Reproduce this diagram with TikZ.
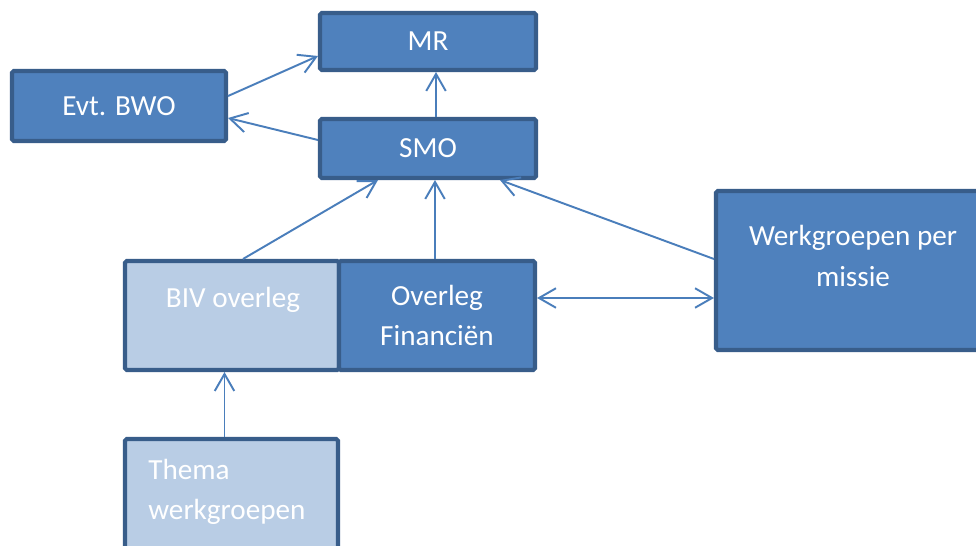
\documentclass[tikz,border=0pt]{standalone}
\usepackage{fontspec}
\setmainfont{Carlito}
\usepackage{tikz}
\usetikzlibrary{calc, arrows.meta}
\definecolor{myblue}{RGB}{79, 129, 189}
\definecolor{mylight}{RGB}{185, 205, 229}
\definecolor{myborder}{RGB}{56, 93, 138}
\definecolor{myarrow}{RGB}{74, 126, 187}
\tikzset{>={Straight Barb[length=3.4mm, width=3.9mm, line width=1.1pt]}}
\tikzset{box/.style = {draw = myborder, line width = 2.3pt, fill = myblue, rounded corners = 1pt, inner sep = 0pt, text = white, font = \fontsize{16.6}{22.8}\selectfont, align = center}}
\tikzset{lightbox/.style = {box, fill = mylight}}
\tikzset{txt/.style = {text = white, inner sep = 0pt, font = \fontsize{16.6}{22.8}\selectfont}}
\tikzset{conn/.style = {->, draw = myarrow, line width = 1.1pt}}

\begin{document}
\begin{tikzpicture}
\clip (0, 0) rectangle (19.52, 10.9);
\fill[white] (0, 0) rectangle (19.52, 10.9);

\node[box, minimum width = 4.32cm, minimum height = 1.14cm] (mr) at (8.56, 10.07) {MR};
\node[box, minimum width = 4.28cm, minimum height = 1.40cm] (bwo) at (2.38, 8.78) {Evt. BWO};
\node[box, minimum width = 4.32cm, minimum height = 1.18cm] (smo) at (8.56, 7.93) {SMO};
\node[lightbox, minimum width = 4.28cm, minimum height = 2.18cm] (biv) at (4.64, 4.59) {};
\node[box, minimum width = 3.92cm, minimum height = 2.18cm] (fin) at (8.74, 4.59) {Overleg\\Financiën};
\node[box, minimum width = 5.48cm, minimum height = 3.18cm] (wgm) at (17.06, 5.49) {};
\node[lightbox, minimum width = 4.26cm, minimum height = 2.48cm] (thema) at (4.63, 0.88) {};

\node[txt] (bivtext) at (4.66, 4.90) {BIV overleg};
\node[txt, align = center] (wgmtext) at (17.06, 5.78) {Werkgroepen per\\missie};
\node[txt, align = left, anchor = west] (thematext) at (2.96, 1.06) {Thema\\werkgroepen};

\draw[conn] ([yshift = 0.20cm]bwo.east) -- ([yshift = -0.29cm]mr.west);
\draw[conn] ([yshift = 0.17cm]smo.west) -- ([yshift = -0.24cm]bwo.east);
\draw[conn] ([xshift = 0.16cm]smo.north) -- ([xshift = 0.16cm]mr.south);
\draw[conn] ([xshift = 0.22cm]biv.north) -- ([xshift = -1.00cm]smo.south);
\draw[conn] ([xshift = -0.04cm]fin.north) -- ([xshift = 0.14cm]smo.south);
\draw[conn] ([yshift = 0.23cm]wgm.west) -- ([xshift = 1.44cm]smo.south);
\draw[conn, <->] ([yshift = 0.35cm]fin.east) -- ([yshift = 0.35cm]fin.east -| wgm.west);
\draw[conn] ([xshift = -0.14cm]thema.north) -- ([xshift = -0.14cm]thema.north |- biv.south);
\end{tikzpicture}
\end{document}
